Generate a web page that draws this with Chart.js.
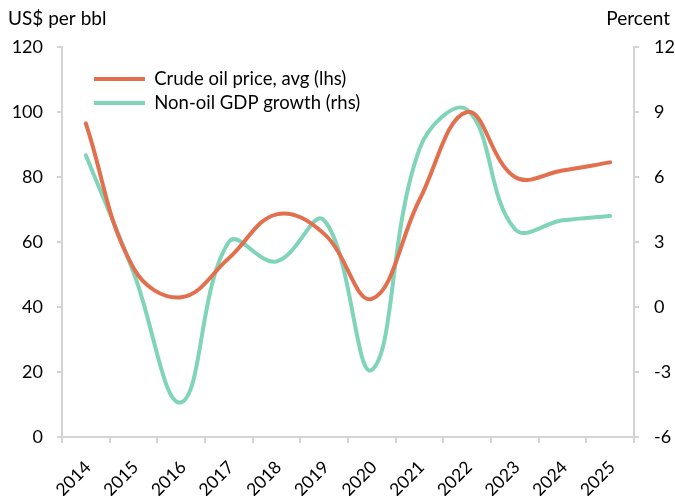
<!DOCTYPE html>
<html>
<head>
<meta charset="utf-8">
<script src="https://cdn.jsdelivr.net/npm/chart.js@4"></script>
<style>
  html, body { margin: 0; padding: 0; background: #ffffff; }
  #wrap { width: 675px; height: 496px; }
</style>
</head>
<body>
<div id="wrap"><canvas id="oilChart"></canvas></div>
<script>
// years on the x axis
const years = ["2014", "2015", "2016", "2017", "2018", "2019", "2020", "2021", "2022", "2023", "2024", "2025"];
// crude oil price, US$ per bbl (left axis)
const crudeOil = [96.5, 52, 43, 55, 68.5, 62.5, 42.5, 73, 100, 80, 82, 84.5];
// non-oil GDP growth, percent (right axis)
const nonOilGdp = [7.0, 1.6, -4.4, 3.0, 2.1, 4.0, -2.9, 7.3, 9.1, 3.6, 4.0, 4.2];

const color = {
  Orange: '#E2704E',
  Teal: '#7FD4BA',
  Axis: '#D4D4D4',
  Text: '#000000',
};
const fontFamily = 'Lato, "Open Sans", sans-serif';

// axis captions above the plot
const axisCaptions = {
  id: 'axisCaptions',
  afterDraw(chart) {
    const ctx = chart.ctx;
    ctx.save();
    ctx.font = '19px ' + fontFamily;
    ctx.fillStyle = color.Text;
    ctx.textBaseline = 'alphabetic';
    ctx.textAlign = 'left';
    ctx.fillText('US$ per bbl', 8, 25);
    ctx.textAlign = 'right';
    ctx.fillText('Percent', 670, 25);
    ctx.restore();
  }
};

// move the legend into the upper left corner of the plot
const legendNudge = {
  id: 'legendNudge',
  afterLayout(chart) {
    if (!chart.legend) return;
    chart.legend.left = chart.chartArea.left + 26.5;
    chart.legend.top = chart.chartArea.top + 17.25;
  }
};

const oilChartConfig = {
  type: 'line',
  data: {
    labels: years,
    datasets: [
      {
        label: 'Crude oil price, avg (lhs)',
        data: crudeOil,
        yAxisID: 'y',
        borderColor: color.Orange,
        backgroundColor: color.Orange,
        borderWidth: 4,
        borderCapStyle: 'round',
        tension: 0.4,
        pointRadius: 0,
        fill: false,
      },
      {
        label: 'Non-oil GDP growth (rhs)',
        data: nonOilGdp,
        yAxisID: 'y1',
        borderColor: color.Teal,
        backgroundColor: color.Teal,
        borderWidth: 4,
        borderCapStyle: 'round',
        tension: 0.4,
        pointRadius: 0,
        fill: false,
      },
    ],
  },
  options: {
    responsive: true,
    maintainAspectRatio: false,
    animation: false,
    layout: { padding: { top: 47, left: 0, right: 0, bottom: 0 } },
    plugins: {
      tooltip: { enabled: false },
      legend: {
        position: 'chartArea',
        align: 'start',
        labels: {
          usePointStyle: true,
          pointStyle: 'line',
          pointStyleWidth: 51,
          padding: 5.5,
          color: color.Text,
          font: { family: fontFamily, size: 18.5 },
        },
      },
    },
    scales: {
      x: {
        offset: true,
        grid: {
          offset: true,
          drawOnChartArea: false,
          drawTicks: true,
          tickLength: 6,
          color: color.Axis,
          lineWidth: 2,
        },
        border: { color: color.Axis, width: 2 },
        ticks: {
          color: color.Text,
          font: { family: fontFamily, size: 17.5 },
          minRotation: 45,
          maxRotation: 45,
          padding: 14,
          labelOffset: 2,
        },
        afterFit(scale) { scale.height = 59; },
      },
      y: {
        position: 'left',
        min: 0,
        max: 120,
        grid: {
          drawOnChartArea: false,
          tickLength: 5,
          color: color.Axis,
          lineWidth: 2,
        },
        border: { color: color.Axis, width: 2 },
        ticks: {
          stepSize: 20,
          color: color.Text,
          font: { family: fontFamily, size: 18 },
          padding: 14,
        },
        afterFit(scale) { scale.width = 62; },
      },
      y1: {
        position: 'right',
        min: -6,
        max: 12,
        grid: {
          drawOnChartArea: false,
          tickLength: 5,
          color: color.Axis,
          lineWidth: 2,
        },
        border: { color: color.Axis, width: 2 },
        ticks: {
          stepSize: 3,
          color: color.Text,
          font: { family: fontFamily, size: 18 },
          padding: 15,
        },
        afterFit(scale) { scale.width = 41; },
      },
    },
  },
  plugins: [axisCaptions, legendNudge],
};

const oilChart = new Chart(document.getElementById('oilChart'), oilChartConfig);
</script>
</body>
</html>
